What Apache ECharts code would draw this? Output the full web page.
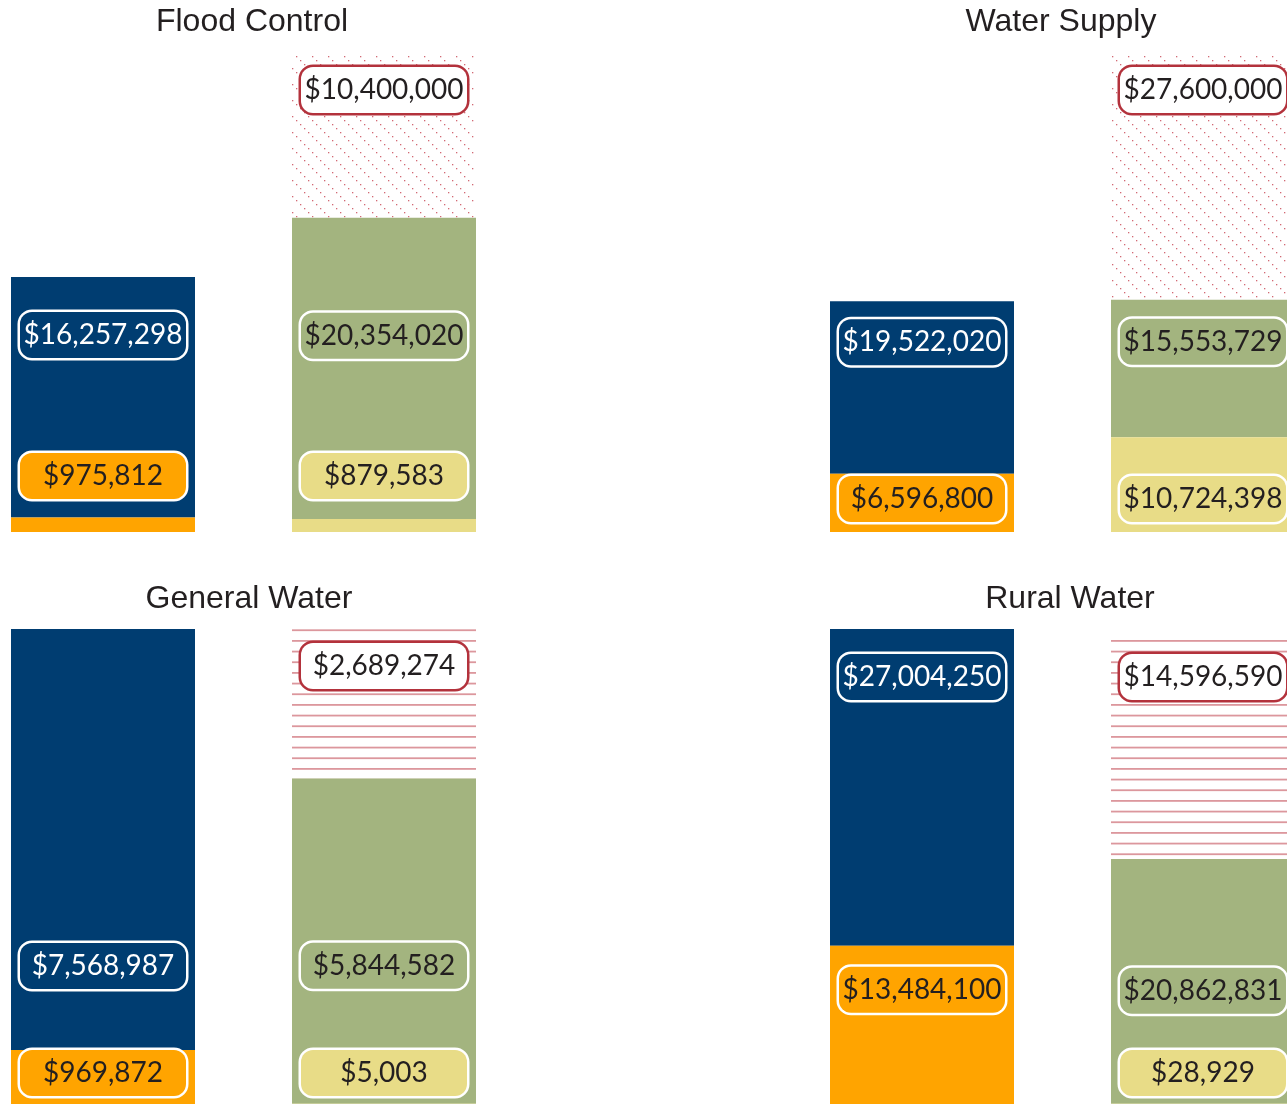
<!DOCTYPE html>
<html>
<head>
<meta charset="utf-8">
<script src="https://cdn.jsdelivr.net/npm/echarts@6/dist/echarts.min.js"></script>
<style>
html, body { margin: 0; padding: 0; background: #fff; }
#main { width: 1287px; height: 1104px; }
</style>
</head>
<body>
<div id="main"></div>
<script>
// data
var panels = ['Flood Control', 'Water Supply', 'General Water', 'Rural Water'];
var bars = ['left', 'right'];
var orangeVals = [975812, 6596800, 969872, 13484100];
var navyVals = [16257298, 19522020, 7568987, 27004250];
var yellowVals = [879583, 10724398, 5003, 28929];
var greenVals = [20354020, 15553729, 5844582, 20862831];
var gapVals = [10400000, 27600000, 2689274, 14596590];
// hatched part as it is drawn in the source (not always to scale with its label)
var gapDrawn = [10940000, 27600000, 2689274, 18920000];

// layout
var gridLeft = [103, 922, 103, 922];
var gridTop = [56, 56, 629, 629];
var gridHeight = [476, 476, 475, 475];
var titleX = [252, 1061, 249, 1070];
var titleY = [6, 6, 583, 583];
// label place per segment: orange, navy, yellow, green, hatched
var labelPos = [
    [['insideBottom', 33], ['insideTop', 35], ['insideBottom', 33], ['insideTop', 95], ['insideTop', 11]],
    [['insideBottom', 10], ['insideTop', 18], ['insideBottom', 10], ['insideTop', 19], ['insideTop', 11]],
    [['insideBottom', 8], ['insideBottom', 61], ['insideBottom', 8], ['insideBottom', 115], ['insideTop', 14]],
    [['insideTop', 21], ['insideTop', 25], ['insideBottom', 8], ['insideBottom', 90], ['insideTop', 17]]
];

var NAVY = '#003d71', ORANGE = '#ffa400', GREEN = '#a3b47f', YELLOW = '#e8dc87', RED = '#b3323c', DARK = '#231f20';

function diagPattern() {
    var c = document.createElement('canvas');
    c.width = 16; c.height = 16;
    var g = c.getContext('2d');
    g.fillStyle = 'rgba(195,55,70,0.75)';
    for (var i = 0; i < 16; i += 4) {
        g.fillRect(i, i, 1.3, 1.3);
    }
    return { image: c, repeat: 'repeat' };
}
function linePattern() {
    var c = document.createElement('canvas');
    c.width = 4; c.height = 32;
    var g = c.getContext('2d');
    g.fillStyle = '#dc979d';
    [0, 10.67, 21.33].forEach(function (y) { g.fillRect(0, y, 4, 1.8); });
    return { image: c, repeat: 'repeat' };
}
var patterns = [diagPattern(), diagPattern(), linePattern(), linePattern()];

function money(v) {
    return '$' + v.toLocaleString('en-US');
}

var option = {
    animation: false,
    backgroundColor: '#fff',
    title: [],
    grid: [],
    xAxis: [],
    yAxis: [],
    series: []
};

for (var p = 0; p < panels.length; p++) {
    option.title.push({
        text: panels[p],
        left: titleX[p],
        top: titleY[p],
        textAlign: 'center',
        padding: 0,
        textStyle: { fontFamily: 'Liberation Sans', fontSize: 32, fontWeight: 'normal', color: DARK }
    });
    option.grid.push({ left: gridLeft[p], top: gridTop[p], width: 281, height: gridHeight[p], containLabel: false });
    option.xAxis.push({
        type: 'category', gridIndex: p, data: bars, boundaryGap: false, show: false
    });
    option.yAxis.push({
        type: 'value', gridIndex: p, min: 0,
        max: Math.max(orangeVals[p] + navyVals[p], yellowVals[p] + greenVals[p] + gapDrawn[p]),
        show: false
    });

    var segs = [
        { data: [orangeVals[p], '-'], text: [orangeVals[p], '-'], color: ORANGE, bg: ORANGE, border: '#fff', fg: DARK, z: 6 },
        { data: [navyVals[p], '-'], text: [navyVals[p], '-'], color: NAVY, bg: NAVY, border: '#fff', fg: '#fff', z: 4 },
        { data: ['-', yellowVals[p]], text: ['-', yellowVals[p]], color: YELLOW, bg: YELLOW, border: '#fff', fg: DARK, z: 6 },
        { data: ['-', greenVals[p]], text: ['-', greenVals[p]], color: GREEN, bg: GREEN, border: '#fff', fg: DARK, z: 4 },
        { data: ['-', gapDrawn[p]], text: ['-', gapVals[p]], color: patterns[p], bg: '#fff', border: RED, fg: DARK, z: 3 }
    ];
    segs.forEach(function (s, k) {
        var txt = s.text;
        option.series.push({
            type: 'bar',
            xAxisIndex: p,
            yAxisIndex: p,
            stack: 'panel' + p,
            barWidth: 184,
            clip: false,
            z: s.z,
            data: s.data,
            itemStyle: { color: s.color },
            label: {
                show: true,
                position: labelPos[p][k][0],
                distance: labelPos[p][k][1],
                formatter: function (prm) { return money(txt[prm.dataIndex]); },
                fontFamily: 'Lato',
                fontSize: 28,
                color: s.fg,
                backgroundColor: s.bg,
                borderColor: s.border,
                borderWidth: 2.5,
                borderRadius: 12,
                width: 152,
                lineHeight: 38,
                align: 'center',
                padding: [4, 7]
            },
            emphasis: { disabled: true }
        });
    });
}

var myChart = echarts.init(document.getElementById('main'));
myChart.setOption(option);
</script>
</body>
</html>
